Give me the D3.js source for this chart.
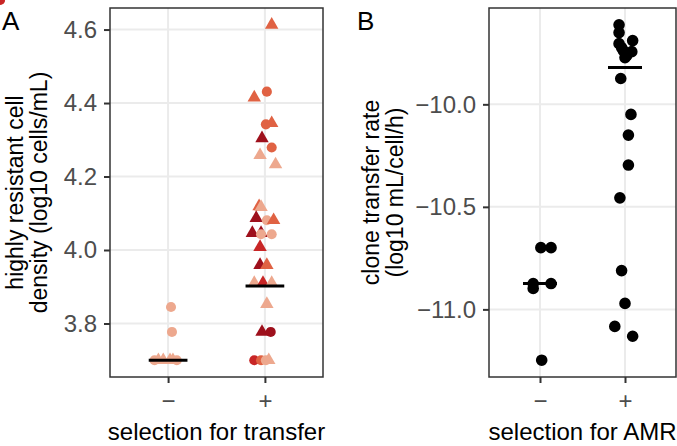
<!DOCTYPE html>
<html lang="en">
<head>
<meta charset="UTF-8">
<title>Selection for transfer and AMR</title>
<script src="https://d3js.org/d3.v7.min.js"></script>
<style>
  body { margin: 0; background: #fff; }
  svg text { font-family: 'Liberation Sans', Arial, sans-serif; }
  .tick text { fill: #4d4d4d; font-size: 24px; }
  .tick line { stroke: #333; stroke-width: 2; }
  .domain { display: none; }
  .grid line { stroke: #ebebeb; stroke-width: 2; }
</style>
</head>
<body>
<div id="chart"></div>
<script>
// categories on both x axes
const xCats = ["\u2212", "+"];

// panel A: highly resistant cell density (log10 cells/mL)
const aGroup  = [0,0,0,0,0,0,0,0,
                 1,1,1,1,1,1,1,1,1,1,1,1,1,1,1,1,1,1,1,1,1,1,1,1,1,1,1,1,1,1,1];
const aValue  = [3.845,3.777,3.70,3.70,3.70,3.70,3.70,3.70,
                 4.613,4.415,4.431,4.342,4.345,4.304,4.279,4.258,4.233,
                 4.119,4.117,4.087,4.081,4.081,4.046,4.046,4.043,4.043,
                 4.008,3.959,3.959,3.910,3.910,3.910,3.853,3.777,3.777,
                 3.70,3.70,3.70,3.70,3.70,3.70];
const aJitter = [0.03,0.04,-0.14,-0.10,-0.05,0.02,0.05,0.09,
                 0.07,-0.11,0.02,0.01,0.07,-0.03,0.07,-0.05,0.11,
                 -0.06,-0.04,-0.09,0.02,0.09,-0.13,-0.04,-0.04,0.07,
                 -0.05,-0.05,0.02,-0.11,-0.02,0.07,0.02,-0.03,0.06,
                 -0.11,-0.04,0.01,0.04,0.06,0.11];
const aShape  = ["c","c","c","t","t","t","t","c",
                 "t","t","c","c","t","t","c","t","t",
                 "t","t","t","c","t","t","t","c","c",
                 "t","t","t","t","t","t","t","t","c",
                 "c","c","c","t","c","c"];
const aStrain = [1,1,1,1,1,1,1,1,
                 2,2,2,2,2,4,2,1,1,
                 2,1,4,1,2,4,4,1,1,
                 3,4,2,1,3,1,1,4,4,
                 3,2,1,1,1,3];
const aMedian = [3.70, 3.902];
const aTicks  = [3.8, 4.0, 4.2, 4.4, 4.6];

// panel B: clone transfer rate (log10 mL/cell/h)
const bGroup  = [0,0,0,0,0,0,
                 1,1,1,1,1,1,1,1,1,1,1,1,1,1,1,1,1,1];
const bValue  = [-10.699,-10.699,-10.874,-10.898,-10.874,-11.248,
                 -9.612,-9.650,-9.689,-9.704,-9.723,-9.738,-9.743,-9.762,-9.772,
                 -9.874,-10.049,-10.150,-10.296,-10.456,-10.811,-10.971,-11.083,-11.131];
const bJitter = [0.01,0.13,-0.08,-0.08,0.13,0.02,
                 -0.07,-0.07,0.09,-0.07,-0.04,-0.02,0.08,0.02,0.0,
                 -0.05,0.07,0.04,0.04,-0.06,-0.04,0.0,-0.12,0.09];
const bMedian = [-10.874, -9.82];
const bTicks  = [-11.0, -10.5, -10.0];

const strainColour = d3.scaleOrdinal()
    .domain([1, 2, 3, 4])
    .range(["#eda88e", "#e06243", "#c82626", "#9e101c"]);

const W = 677, H = 446;
const svg = d3.select("#chart").append("svg")
    .attr("width", W).attr("height", H);

function expand(ext) {
    const d = ext[1] - ext[0];
    return [ext[0] - d * 0.05, ext[1] + d * 0.05];
}

function drawPanel(p) {
    const x = d3.scaleLinear().domain([0.4, 2.6]).range([p.left, p.right]);
    const y = d3.scaleLinear().domain(expand(d3.extent(p.values))).range([p.bottom, p.top]);
    const g = svg.append("g");

    // grid
    const grid = g.append("g").attr("class", "grid");
    grid.selectAll(".gy").data(p.ticks).enter().append("line")
        .attr("x1", p.left).attr("x2", p.right)
        .attr("y1", d => y(d)).attr("y2", d => y(d));
    grid.selectAll(".gx").data(xCats).enter().append("line")
        .attr("x1", (d, i) => x(i + 1)).attr("x2", (d, i) => x(i + 1))
        .attr("y1", p.top).attr("y2", p.bottom);

    // points
    g.selectAll("path.pt").data(p.values).enter().append("path")
        .attr("class", "pt")
        .attr("transform", (d, i) => `translate(${x(p.group[i] + 1 + p.jitter[i])},${y(d)})`)
        .attr("d", (d, i) => d3.symbol()
            .type(p.shape && p.shape[i] === "t" ? d3.symbolTriangle : d3.symbolCircle)
            .size(p.shape && p.shape[i] === "t" ? 78 : p.size)())
        .attr("fill", (d, i) => p.strain ? strainColour(p.strain[i]) : "#000");

    // median bars
    g.selectAll("line.med").data(p.median).enter().append("line")
        .attr("x1", (d, i) => x(i + 1 - 0.2)).attr("x2", (d, i) => x(i + 1 + 0.2))
        .attr("y1", d => y(d)).attr("y2", d => y(d))
        .attr("stroke", "#000").attr("stroke-width", 3);

    // border
    g.append("rect")
        .attr("x", p.left).attr("y", p.top)
        .attr("width", p.right - p.left).attr("height", p.bottom - p.top)
        .attr("fill", "none").attr("stroke", "#333").attr("stroke-width", 1.5);

    // axes
    g.append("g").attr("transform", `translate(${p.left},0)`)
        .call(d3.axisLeft(y).tickValues(p.ticks).tickSize(6).tickPadding(7)
            .tickFormat(d => d3.format(".1f")(d).replace("-", "\u2212")));
    g.append("g").attr("transform", `translate(0,${p.bottom})`)
        .call(d3.axisBottom(x).tickValues([1, 2]).tickSize(6).tickPadding(9)
            .tickFormat(d => xCats[d - 1]));

    // titles
    const cy = (p.top + p.bottom) / 2;
    p.yTitle.forEach((t, i) => {
        g.append("text")
            .attr("transform", `translate(${p.yTitleX[i]},${cy}) rotate(-90)`)
            .attr("text-anchor", "middle").attr("font-size", 23).attr("fill", "#000")
            .text(t);
    });
    g.append("text")
        .attr("x", (p.left + p.right) / 2).attr("y", 440)
        .attr("text-anchor", "middle").attr("font-size", 24).attr("fill", "#000")
        .text(p.xTitle);
    g.append("text")
        .attr("x", p.tagX).attr("y", 30)
        .attr("font-size", 26).attr("fill", "#000")
        .text(p.tag);
}

drawPanel({
    left: 110, right: 323, top: 8, bottom: 377,
    values: aValue, group: aGroup, jitter: aJitter, shape: aShape, strain: aStrain,
    median: aMedian, ticks: aTicks, size: 80,
    yTitle: ["highly resistant cell", "density (log10 cells/mL)"], yTitleX: [23, 47],
    xTitle: "selection for transfer", tag: "A", tagX: 2
});
drawPanel({
    left: 489, right: 676, top: 8, bottom: 377,
    values: bValue, group: bGroup, jitter: bJitter,
    median: bMedian, ticks: bTicks, size: 106,
    yTitle: ["clone transfer rate", "(log10 mL/cell/h)"], yTitleX: [379, 403],
    xTitle: "selection for AMR", tag: "B", tagX: 357
});
</script>
</body>
</html>
